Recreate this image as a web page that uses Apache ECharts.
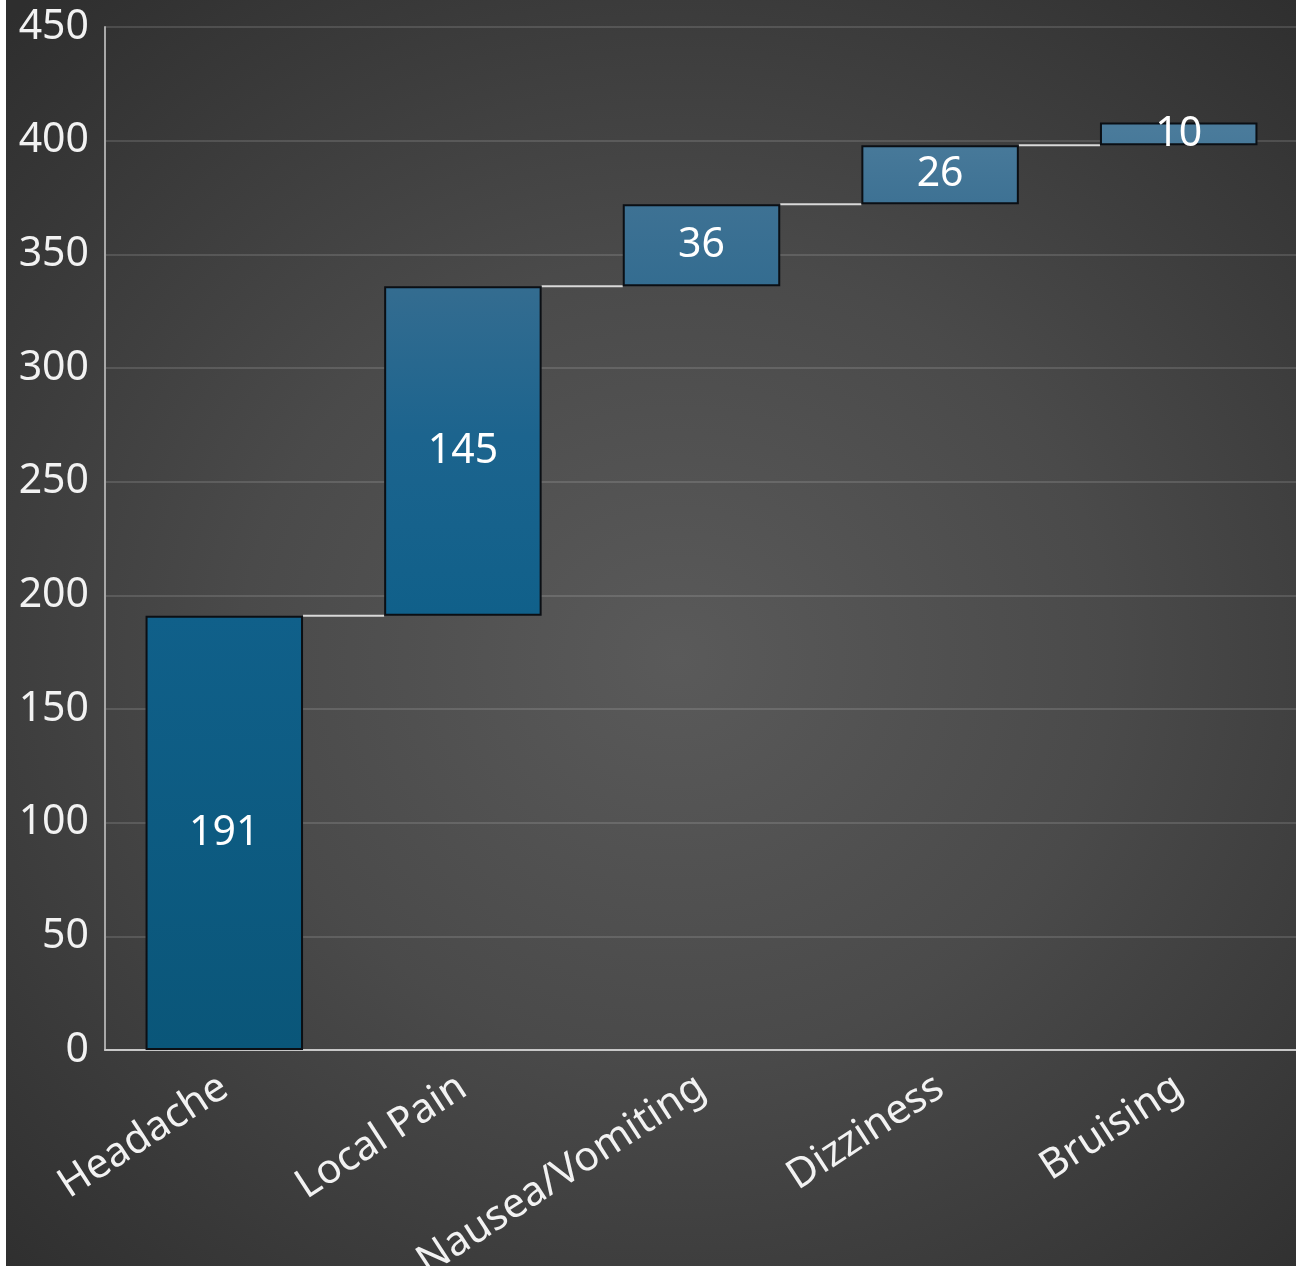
<!DOCTYPE html>
<html><head><meta charset="utf-8">
<script src="https://cdn.jsdelivr.net/npm/echarts@6/dist/echarts.min.js"></script>
<style>
html,body{margin:0;padding:0;background:#fff;width:1296px;height:1266px;overflow:hidden;}
#c{position:absolute;left:6px;top:0;width:1290px;height:1266px;
background:radial-gradient(ellipse 75% 70% at 52% 52%, #5a5a5a 0%, #4a4a4a 45%, #2e2e2e 100%);}
</style></head>
<body><div id="c"></div>
<script>
const categories = ['Headache', 'Local Pain', 'Nausea/Vomiting', 'Dizziness', 'Bruising'];
const values = [191, 145, 36, 26, 10];
const yTicks = { min: 0, max: 450, interval: 50 };

const bases = [];
const tops = [];
let run = 0;
values.forEach(v => { bases.push(run); run += v; tops.push(run); });

const FONT = '"Noto Sans", sans-serif';
const chart = echarts.init(document.getElementById('c'), null, { renderer: 'canvas' });

const barColor = new echarts.graphic.LinearGradient(0, 27, 0, 1050, [
  { offset: 0, color: '#4e7e9e' },
  { offset: 0.10, color: '#4a7b9b' },
  { offset: 0.17, color: '#3e7294' },
  { offset: 0.26, color: '#336c90' },
  { offset: 0.40, color: '#1c648e' },
  { offset: 0.575, color: '#10608a' },
  { offset: 1, color: '#0a5679' }
], true);

chart.setOption({
  backgroundColor: 'transparent',
  animation: false,
  grid: { left: 99, right: -2, top: 27, bottom: 216, containLabel: false, outerBoundsMode: 'none' },
  xAxis: {
    type: 'category', data: categories,
    axisLine: { show: true, lineStyle: { color: '#c8c8c8', width: 2 } },
    axisTick: { show: false },
    axisLabel: { color: '#f2f2f2', fontSize: 41, fontFamily: FONT, rotate: 33, margin: 34, interval: 0 }
  },
  yAxis: {
    type: 'value', min: yTicks.min, max: yTicks.max, interval: yTicks.interval,
    axisLine: { show: true, lineStyle: { color: '#a8a8a8', width: 2 } },
    axisTick: { show: false },
    axisLabel: { color: '#f2f2f2', fontSize: 41, fontFamily: FONT, margin: 16 },
    splitLine: { show: true, lineStyle: { color: 'rgba(255,255,255,0.13)', width: 2 } }
  },
  series: [
    {
      type: 'bar', stack: 'w', data: bases, barWidth: '66%',
      itemStyle: { color: 'transparent' }, silent: true
    },
    {
      type: 'bar', stack: 'w', data: values, barWidth: '66%',
      itemStyle: { color: barColor, borderColor: '#0b0f14', borderWidth: 2 },
      label: { show: true, position: 'inside', color: '#ffffff', fontSize: 41, fontFamily: FONT }
    },
    {
      type: 'custom', silent: true, z: 1,
      data: tops.slice(0, -1).map((t, i) => [i, t]),
      renderItem: function (params, api) {
        const i = api.value(0), y = api.value(1);
        const w = api.size([1, 0])[0] * 0.66;
        const p1 = api.coord([i, y]);
        const p2 = api.coord([i + 1, y]);
        return {
          type: 'line',
          shape: { x1: p1[0] + w / 2, y1: p1[1], x2: p2[0] - w / 2, y2: p2[1] },
          style: { stroke: '#d9d9d9', lineWidth: 2 }
        };
      }
    }
  ]
});
</script></body></html>
